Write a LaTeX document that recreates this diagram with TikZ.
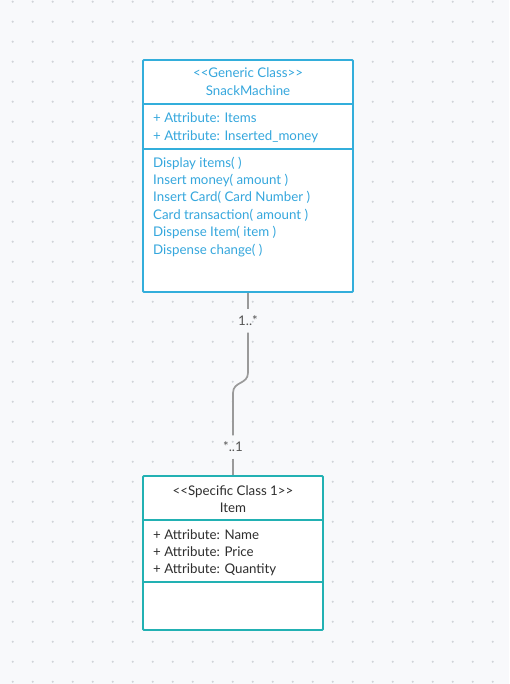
\documentclass[tikz,border=0pt]{standalone}
\usepackage{fontspec}
\setmainfont{Lato}
\begin{document}
\begin{tikzpicture}[x=1pt,y=-1pt,
  bluebox/.style={draw=boxblue,line width=1.8pt,fill=white,rounded corners=1pt,inner sep=0pt},
  tealbox/.style={draw=boxteal,line width=1.8pt,fill=white,rounded corners=1pt,inner sep=0pt},
  bluetxt/.style={text=txtblue,font=\fontsize{13.3}{15}\selectfont,inner sep=0pt},
  darktxt/.style={text=txtdark,font=\fontsize{13.3}{15}\selectfont,inner sep=0pt},
  mult/.style={text=multgrey,font=\fontsize{13.3}{15}\selectfont,inner sep=1pt},
  conn/.style={draw=connGrey,line width=1.7pt}]
\definecolor{bg}{HTML}{F8F9FB}
\definecolor{dotc}{HTML}{D0D3D8}
\definecolor{boxblue}{HTML}{33AEDB}
\definecolor{boxteal}{HTML}{22B1B3}
\definecolor{txtblue}{HTML}{35A7DD}
\definecolor{txtdark}{HTML}{2E2E2E}
\definecolor{multgrey}{HTML}{555555}
\definecolor{connGrey}{HTML}{9A9A9A}
% background
\fill[bg] (0,0) rectangle (509,684);
\useasboundingbox (0,0) rectangle (509,684);
\foreach \i in {0,...,25}{
  \foreach \j in {0,...,34}{
    \fill[dotc] (12.7+20*\i,1.7+20*\j) circle (1.15pt);
  }
}
% top class
\node[bluebox,minimum width=210pt,minimum height=232pt] (top) at (248,176) {};
\draw[boxblue,line width=1.8pt] (143,104) -- (353,104);
\draw[boxblue,line width=1.8pt] (143,149) -- (353,149);
\node[bluetxt,anchor=base] (th1) at (248,78) {<{}<Generic Class>{}>};
\node[bluetxt,anchor=base] (th2) at (248,96) {SnackMachine};
\node[bluetxt,anchor=base west] (ta1) at (153,123) {+ Attribute: Items};
\node[bluetxt,anchor=base west] (ta2) at (153,140.2) {+ Attribute: Inserted\_money};
\node[bluetxt,anchor=base west] (tm1) at (153,167.1) {Display items( )};
\node[bluetxt,anchor=base west] (tm2) at (153,184.5) {Insert money( amount )};
\node[bluetxt,anchor=base west] (tm3) at (153,201.9) {Insert Card( Card Number )};
\node[bluetxt,anchor=base west] (tm4) at (153,219.3) {Card transaction( amount )};
\node[bluetxt,anchor=base west] (tm5) at (153,236.7) {Dispense Item( item )};
\node[bluetxt,anchor=base west] (tm6) at (153,254.1) {Dispense change( )};
% bottom class
\node[tealbox,minimum width=180pt,minimum height=154pt] (bot) at (233,553) {};
\draw[boxteal,line width=1.8pt] (143,520) -- (323,520);
\draw[boxteal,line width=1.8pt] (143,582) -- (323,582);
\node[darktxt,anchor=base] (bh1) at (233,495) {<{}<Specific Class 1>{}>};
\node[darktxt,anchor=base] (bh2) at (233,512.2) {Item};
\node[darktxt,anchor=base west] (ba1) at (153,539.1) {+ Attribute: Name};
\node[darktxt,anchor=base west] (ba2) at (153,556.4) {+ Attribute: Price};
\node[darktxt,anchor=base west] (ba3) at (153,573.7) {+ Attribute: Quantity};
% multiplicities
\node[mult,minimum height=23pt] (m1) at (248,321) {1..*};
\node[mult,minimum height=23pt] (m2) at (233,447) {*..1};
% connector
\draw[conn] (top.south) -- (m1.north);
\draw[conn] (m1.south) -- ++(0,40) .. controls ++(0,12) and (233,381) .. (233,393) -- (m2.north);
\draw[conn] (m2.south) -- (bot.north);
\end{tikzpicture}
\end{document}
